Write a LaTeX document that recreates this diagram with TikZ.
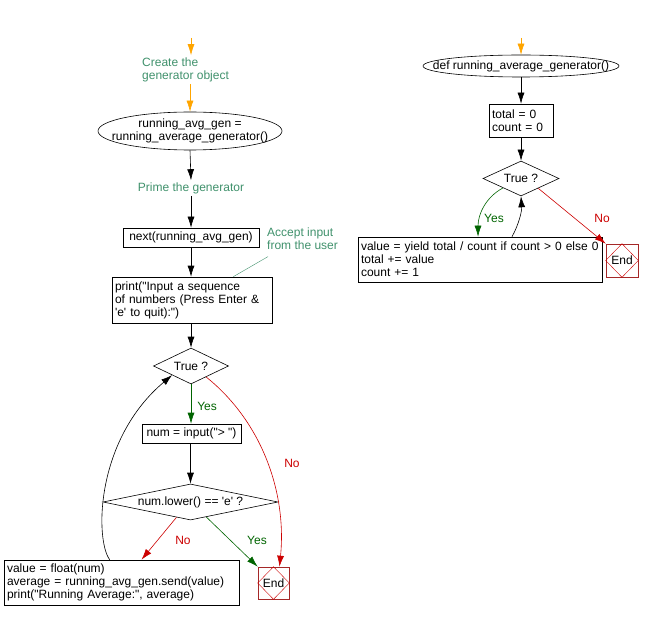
\documentclass[tikz,border=0pt]{standalone}
\usepackage{fontspec}
\setmainfont{Liberation Sans}[Ligatures=TeXOff]
\usetikzlibrary{shapes.geometric,arrows.meta,calc}
\definecolor{cmt}{RGB}{64,145,108}
\definecolor{ygreen}{RGB}{0,100,0}
\definecolor{nred}{RGB}{204,0,0}
\definecolor{endred}{RGB}{165,40,40}
\definecolor{orng}{RGB}{255,165,0}
\begin{document}
\begin{tikzpicture}[x=1pt,y=-1pt,
  txt/.style={font=\fontsize{12pt}{13pt}\selectfont, inner sep=0pt},
  cmttxt/.style={txt, text=cmt, inner sep=2pt, align=left},
  box/.style={draw, line width=0.6pt, font=\fontsize{12pt}{13pt}\selectfont, align=left, inner xsep=3pt, inner ysep=0pt},
  shp/.style={draw, line width=0.6pt, inner sep=0pt},
  endbox/.style={draw=endred, line width=0.6pt, minimum width=31pt, minimum height=32pt, inner sep=0pt},
  tip/.style={-{Latex[length=11pt,width=7pt]}},
  arr/.style={tip, line width=0.6pt},
  oarr/.style={arr, draw=orng},
  garr/.style={arr, draw=ygreen},
  rarr/.style={arr, draw=nred},
  ylab/.style={txt, text=ygreen},
  nlab/.style={txt, text=nred}]
\useasboundingbox (0,0) rectangle (650,620);

% ---------- left column ----------
\coordinate (s0) at (191,38);
\node[cmttxt, anchor=west] (c1) at (140,69.5) {Create the\\generator object};
\node[shp, ellipse, minimum width=184pt, minimum height=38pt] (e1) at (190,131) {};
\node[txt, align=center] at (e1) {running\_avg\_gen =\\running\_average\_generator()};
\draw[oarr] (s0) -- (s0 |- c1.north);
\draw[oarr] (c1.south -| e1) -- (e1.north);

\node[cmttxt] (c2) at (191,188) {Prime the generator};
\draw[arr] (e1.south) -- (c2.north);
\node[box, minimum width=136pt, minimum height=19pt] (n1) at (191,237.5) {next(running\_avg\_gen)};
\draw[arr] (c2.south) -- (n1.north);

\node[cmttxt, anchor=west] (c3) at (265,238.5) {Accept input\\from the user};
\node[box, minimum width=160pt, minimum height=46pt, text width=154pt] (p1) at (192,300)
  {print("Input a sequence\\of numbers (Press Enter \&\\'e' to quit):")};
\draw[cmt, line width=0.4pt] ($(c3.south west)+(3,5)$) -- ($(p1.north east)+(-39,0)$);
\draw[arr] (n1.south) -- (n1.south |- p1.north);

\node[shp, diamond, minimum width=75pt, minimum height=36pt] (d1) at (191,366) {};
\node[txt] at (d1) {True ?};
\draw[arr] (p1.south -| d1) -- (d1.north);

\node[box, minimum width=99pt, minimum height=19pt] (n2) at (191.5,433.5) {num = input("{>}\ ")};
\draw[garr] (d1.south) -- (d1.south |- n2.north) node[ylab, midway, right, xshift=6pt, yshift=-2pt] {Yes};

\node[shp, diamond, minimum width=175pt, minimum height=36pt] (d2) at (190.5,502) {};
\node[txt] at (d2) {num.lower() == 'e' ?};
\draw[arr] (n2.south -| d2) -- (d2.north);

\node[box, minimum width=235pt, minimum height=45pt, text width=229pt] (p3) at (121.5,582.5)
  {value = float(num)\\average = running\_avg\_gen.send(value)\\print("Running Average:", average)};
\node[endbox] (end1) at (273.5,583) {};
\draw[nred, line width=0.4pt] (end1.north) -- (end1.east) -- (end1.south) -- (end1.west) -- cycle;
\node[txt] at (end1) {End};

\draw[rarr] ($(d2.west)!0.84!(d2.south)$) -- ($(p3.north)+(20,0)$);
\node[nlab] at (183,540) {No};
\draw[garr] ($(d2.east)!0.82!(d2.south)$) -- (end1.north west);
\node[ylab] at (257,540) {Yes};

\draw[rarr] ($(d1.east)!0.6!(d1.south)$) .. controls (260,420) and (287,490) .. ($(end1.north)+(6,0)$);
\node[nlab] at (292,463) {No};

\draw[arr] ($(p3.north west)+(106,0)$) .. controls (95,540) and (95,440) .. ($(d1.west)!0.5!(d1.south)$);

% ---------- right column ----------
\coordinate (s1) at (521,38);
\node[shp, ellipse, minimum width=196pt, minimum height=22pt] (e2) at (521,66) {};
\node[txt] at (e2) {def running\_average\_generator()};
\draw[oarr] (s1) -- (e2.north);

\node[box, minimum width=64pt, minimum height=33pt, text width=58pt] (b1) at (521,120.5) {total = 0\\count = 0};
\draw[arr] (e2.south) -- (b1.north);

\node[shp, diamond, minimum width=76pt, minimum height=35pt] (d3) at (521,178.5) {};
\node[txt] at (d3) {True ?};
\draw[arr] (b1.south) -- (d3.north);

\node[box, minimum width=244pt, minimum height=45pt, text width=238pt] (b2) at (480,259.5)
  {value = yield total / count if count {>} 0 else 0\\total += value\\count += 1};
\node[endbox, minimum width=32pt, minimum height=33pt] (end2) at (622,260.5) {};
\draw[nred, line width=0.4pt] (end2.north) -- (end2.east) -- (end2.south) -- (end2.west) -- cycle;
\node[txt] at (end2) {End};

\draw[garr] ($(d3.west)!0.53!(d3.south)$) .. controls (486,197) and (478,214) .. ($(b2.north)+(-2,0)$);
\node[ylab] at (494,218) {Yes};
\draw[arr] ($(b2.north)+(32,0)$) .. controls (518,226) and (522,212) .. (d3.south);
\draw[rarr] ($(d3.east)!0.55!(d3.south)$) -- (end2.north west);
\node[nlab] at (602,218) {No};
\end{tikzpicture}
\end{document}
